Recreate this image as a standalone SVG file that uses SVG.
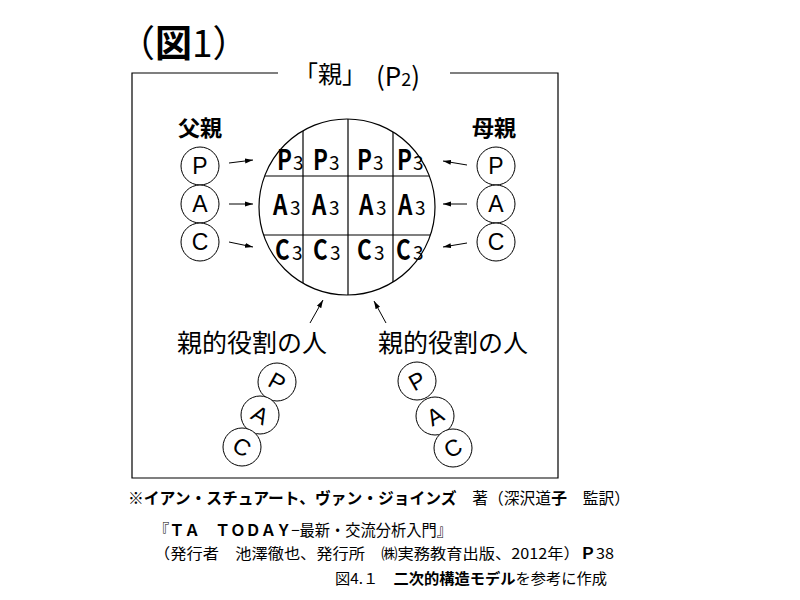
<svg xmlns="http://www.w3.org/2000/svg" width="800" height="600" viewBox="0 0 800 600">
<style>
text{font-family:"Noto Sans CJK JP","Liberation Sans",sans-serif;fill:#000}
.ln{stroke:#000;stroke-width:1.2;fill:none}
.c{stroke:#000;stroke-width:1;fill:#fff}
.lt{font-family:"Liberation Sans","DejaVu Sans",sans-serif;font-size:23px;text-anchor:middle}
.big{font-family:"Liberation Sans",sans-serif;font-size:28px;font-weight:bold}
.sub{font-family:"Liberation Sans",sans-serif;font-size:19px;font-weight:normal}
.ar{stroke:#000;stroke-width:1;fill:none;marker-end:url(#ah)}
</style>
<defs>
<marker id="ah" markerWidth="8" markerHeight="6" refX="8" refY="3" orient="auto" markerUnits="userSpaceOnUse">
<path d="M0,0.5 L8,3 L0,5.5 z" fill="#000"/>
</marker>
<clipPath id="cc"><circle cx="347" cy="207" r="88"/></clipPath>
</defs>
<rect width="800" height="600" fill="#fff"/>

<g id="title">
<text x="118" y="57" font-size="37">（<tspan font-weight="bold">図</tspan>1）</text>
</g>

<g id="frame">
<path class="ln" d="M278,73 H132 V478 H558 V73 H450"/>
<text x="294" y="83" font-size="24">「親」</text>
<text x="376" y="86" font-family="Liberation Sans" font-size="26">(P<tspan font-size="18">2</tspan>)</text>
</g>

<g id="parent-circle">
<circle cx="347" cy="207" r="88" class="ln"/>
<g clip-path="url(#cc)" class="ln">
<line x1="250" y1="176" x2="440" y2="176"/>
<line x1="250" y1="235" x2="440" y2="235"/>
<line x1="303" y1="110" x2="303" y2="300"/>
<line x1="348" y1="110" x2="348" y2="300"/>
<line x1="393" y1="110" x2="393" y2="300"/>
</g>
<g class="big">
<text transform="translate(277,170) scale(0.8,1)">P</text>
<text transform="translate(313,170) scale(0.8,1)">P</text>
<text transform="translate(357,170) scale(0.8,1)">P</text>
<text transform="translate(397,170) scale(0.8,1)">P</text>
<text transform="translate(273,215) scale(0.8,1)">A</text>
<text transform="translate(312,215) scale(0.8,1)">A</text>
<text transform="translate(359,215) scale(0.8,1)">A</text>
<text transform="translate(398,215) scale(0.8,1)">A</text>
<text transform="translate(275,260) scale(0.8,1)">C</text>
<text transform="translate(313,260) scale(0.8,1)">C</text>
<text transform="translate(357,260) scale(0.8,1)">C</text>
<text transform="translate(396,260) scale(0.8,1)">C</text>
</g>
<g class="sub">
<text x="293" y="170">3</text>
<text x="329" y="170">3</text>
<text x="373" y="170">3</text>
<text x="413" y="170">3</text>
<text x="290" y="215">3</text>
<text x="329" y="215">3</text>
<text x="376" y="215">3</text>
<text x="415" y="215">3</text>
<text x="292" y="260">3</text>
<text x="330" y="260">3</text>
<text x="374" y="260">3</text>
<text x="413" y="260">3</text>
</g>
</g>

<g id="father">
<text x="178" y="136" font-size="22" font-weight="bold">父親</text>
<circle class="c" cx="200" cy="166" r="19"/>
<circle class="c" cx="200" cy="204" r="19"/>
<circle class="c" cx="200" cy="242" r="19"/>
<text class="lt" x="200" y="174">P</text>
<text class="lt" x="200" y="212">A</text>
<text class="lt" x="200" y="250">C</text>
</g>

<g id="mother">
<text x="472" y="136" font-size="22" font-weight="bold">母親</text>
<circle class="c" cx="496" cy="166" r="19"/>
<circle class="c" cx="496" cy="204" r="19"/>
<circle class="c" cx="496" cy="242" r="19"/>
<text class="lt" x="496" y="174">P</text>
<text class="lt" x="496" y="212">A</text>
<text class="lt" x="496" y="250">C</text>
</g>

<g id="role-left">
<text x="177" y="352" font-size="25">親的役割の人</text>
<circle class="c" cx="277" cy="382" r="19"/>
<circle class="c" cx="260" cy="415" r="19"/>
<circle class="c" cx="242" cy="447" r="19"/>
<text class="lt" transform="translate(277,382) rotate(29)" y="8">P</text>
<text class="lt" transform="translate(260,415) rotate(29)" y="8">A</text>
<text class="lt" transform="translate(242,447) rotate(29)" y="8">C</text>
</g>

<g id="role-right">
<text x="378" y="352" font-size="25">親的役割の人</text>
<circle class="c" cx="417" cy="381" r="19"/>
<circle class="c" cx="435" cy="416" r="19"/>
<circle class="c" cx="453" cy="448" r="19"/>
<text class="lt" transform="translate(417,381) rotate(-29)" y="8">P</text>
<text class="lt" transform="translate(435,416) rotate(-29)" y="8">A</text>
<text class="lt" transform="translate(453,448) rotate(-29)" y="8">C</text>
</g>

<g id="connectors">
<line class="ar" x1="229" y1="163" x2="253" y2="160"/>
<line class="ar" x1="229" y1="204" x2="253" y2="204"/>
<line class="ar" x1="229" y1="242" x2="253" y2="247"/>
<line class="ar" x1="467" y1="165" x2="443" y2="161"/>
<line class="ar" x1="467" y1="204" x2="443" y2="204"/>
<line class="ar" x1="467" y1="243" x2="443" y2="247"/>
<line class="ar" x1="310" y1="323" x2="323" y2="300"/>
<line class="ar" x1="386" y1="323" x2="374" y2="301"/>
</g>

<g id="caption">
<text x="128" y="504" font-size="16" textLength="502" lengthAdjust="spacingAndGlyphs"><tspan font-weight="bold">※イアン・スチュアート、ヴァン・ジョインズ</tspan>　著（深沢道<tspan font-weight="bold">子</tspan>　監訳）</text>
<text x="154" y="536" font-size="16" textLength="298" lengthAdjust="spacingAndGlyphs">『<tspan font-weight="bold">ＴＡ　ＴＯＤＡＹ</tspan>−最新・交流分析入門』</text>
<text x="154" y="559" font-size="15" textLength="460" lengthAdjust="spacingAndGlyphs">（発行者　池澤徹也、発行所　㈱実務教育出版、2012年）<tspan font-weight="bold">Ｐ</tspan>38</text>
<text x="335" y="584" font-size="15" textLength="272" lengthAdjust="spacingAndGlyphs">図4.１　<tspan font-weight="bold">二次的構造モデル</tspan>を参考に作成</text>
</g>
</svg>
